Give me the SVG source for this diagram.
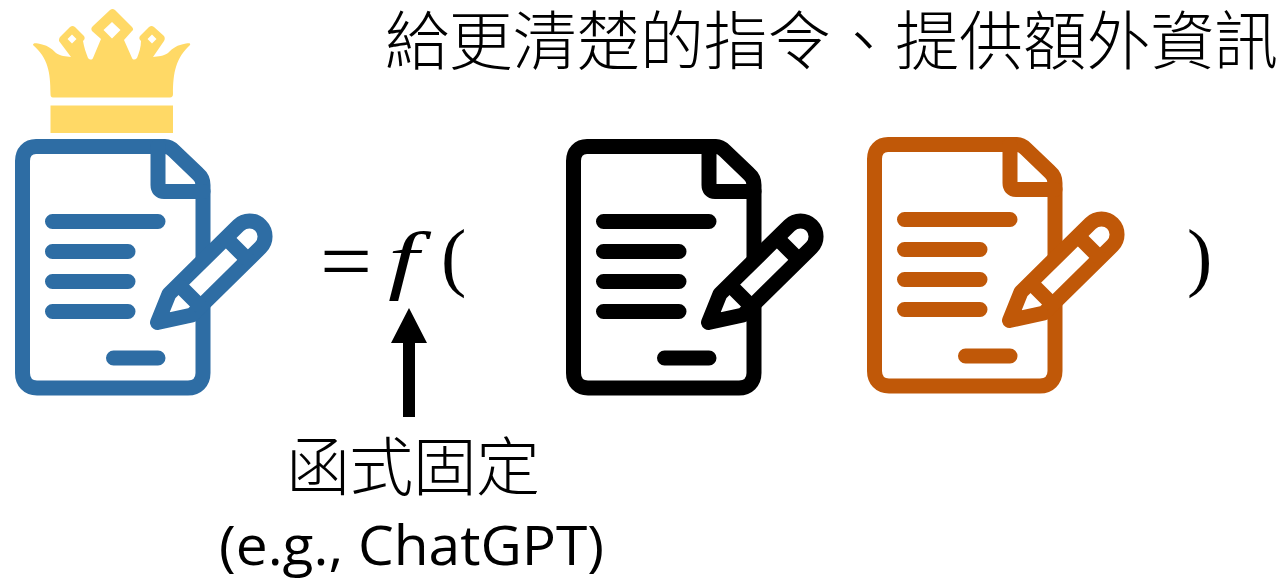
<svg xmlns="http://www.w3.org/2000/svg" width="1281" height="578" viewBox="0 0 1281 578">
<style>
.doc{fill:none;stroke:currentColor;stroke-width:15;stroke-linejoin:round;stroke-linecap:round}
.cjk{font-family:"Noto Sans CJK TC","Noto Sans CJK SC",sans-serif;font-size:64px;font-weight:300;fill:#000}
.math{font-family:"Liberation Serif","DejaVu Serif",serif;font-size:76px;fill:#000}
.latin{font-family:"Open Sans","Noto Sans",sans-serif;font-size:54px;fill:#000}
</style>
<defs>
<g id="docIcon" class="doc">
<path d="M21,7.5H150C154,7.5 156,9 159,12L183,35C186.500,38 188,41 188,46V234C188,243 182,249 173,249H22C13,249 7.500,243 7.500,234V22C7.500,13 13,7.500 21,7.500Z"/>
<path d="M143,7.500V46C143,50 145,52.500 149,52.500H188"/>
<path d="M37.500,82.500H143M37.500,112.500H113M37.500,142.500H113M37.500,172.500H113M98.500,219H143"/>
<path d="M142.500,183.500L154,155L223.500,86.500A15.500,15.500 0 0 1 245.500,108.500L177,176Z" fill="#fff"/>
<path d="M164,146L186,168M211,99L233,121" stroke-linecap="butt"/>
</g>
</defs>
<g id="crown" fill="#FFD966">
<rect x="50.500" y="105.500" width="122.500" height="27.500"/>
<path fill-rule="evenodd" d="M53,97.500C51,97.500 50.500,96 50.500,94C50.500,72 48,58 33,45C33,43 35,43 38,43.500C47,45 51,48 56,53C60,56 66,56.500 71,57L59,41C59,39 59,38 61,36L70,27C72,25.500 73,25.500 75,27L84,36C85,38 85,39 83,41C84,47 86,53 88,58C90,60 92,60 93,58L101,39L92,31C91,29 91,28 93,26L110,10C112,8.500 113,8.500 115,10L132,27C133.500,29 133.500,30 132,31L124,40L132,58C133,60 135,60 137,58C139,53 141,47 141,41C139,39 139,38 140,36L149,27C151,25.500 152,25.500 154,27L164,36C165,38 165,39 164,41L153,57C158,56.500 164,56 168,53C173,48 177,45 186,43.500C189,43 191,43 190,45C176,58 173,72 173,94C173,96 172,97.500 170,97.500Z M112,22L103.500,30L112,38.500L120.500,30Z M72,34.500L67.500,39L72,43.500L76.500,39Z M152,34.500L147.500,39L152,43.500L156.500,39Z"/>
</g>
<g id="result-doc" transform="translate(15,139)" style="color:#2E6DA4"><use href="#docIcon"/></g>
<g id="instruction-doc" transform="translate(566,139)" style="color:#000"><use href="#docIcon"/></g>
<g id="info-doc" transform="translate(867,137)" style="color:#C05808"><use href="#docIcon"/></g>
<g id="title"><text class="cjk" x="385" y="64" textLength="893" lengthAdjust="spacing">給更清楚的指令、提供額外資訊</text></g>
<g id="equation">
<text class="math" transform="translate(320,290) scale(1.1,1)" style="font-size:84px">=</text>
<text class="math" transform="translate(388,285) scale(1.45,1)" font-style="italic">f</text>
<text class="math" x="441" y="282">(</text>
<text class="math" x="1187" y="282">)</text>
</g>
<g id="label">
<text class="cjk" x="286" y="490" textLength="254" lengthAdjust="spacing">函式固定</text>
<text class="latin" x="219" y="565" textLength="385" lengthAdjust="spacingAndGlyphs">(e.g., ChatGPT)</text>
</g>
<g id="connectors"><polygon points="409,308 427,343 415,343 415,417 403,417 403,343 391,343" fill="#000"/></g>
</svg>
